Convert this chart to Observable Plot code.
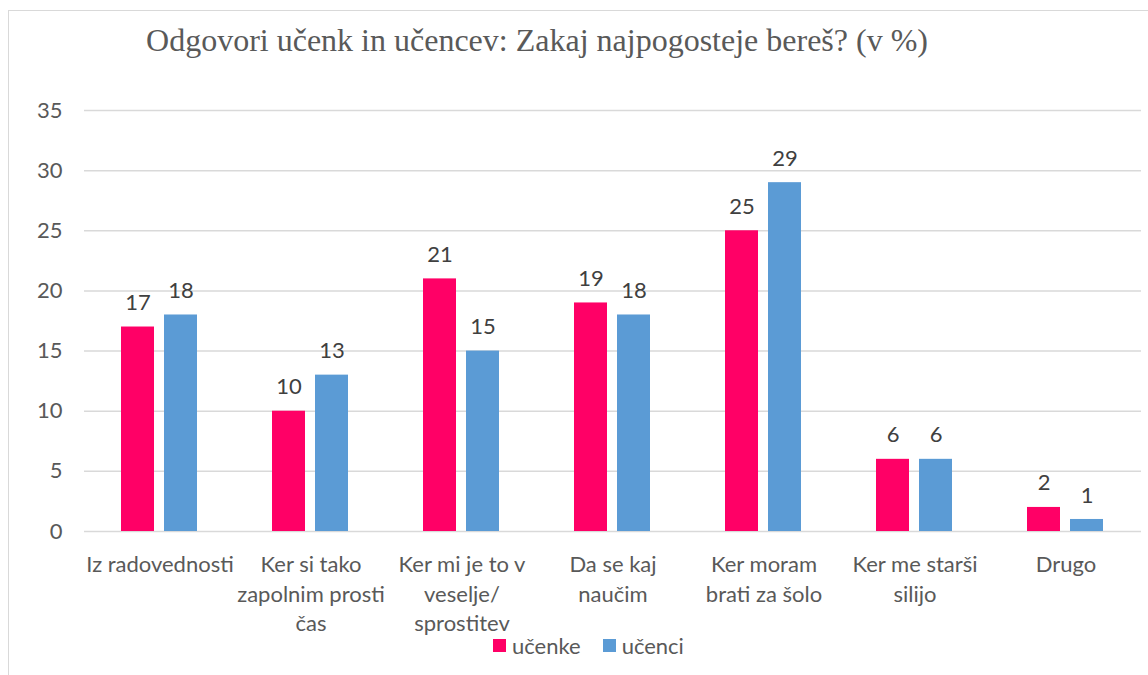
<!DOCTYPE html>
<html>
<head>
<meta charset="utf-8">
<script src="https://cdn.jsdelivr.net/npm/d3@7"></script>
<script src="https://cdn.jsdelivr.net/npm/@observablehq/plot@0.6"></script>
<style>
  html, body { margin: 0; padding: 0; background: #fff; width: 1148px; height: 675px; overflow: hidden; }
  #frame { position: absolute; left: 8px; top: 10px; width: 1170px; height: 700px; border: 1px solid #d9d9d9; box-sizing: border-box; }
  #title { position: absolute; left: 0; top: 20px; width: 1074px; text-align: center; font-family: "Liberation Serif", "Times New Roman", serif; font-size: 32px; line-height: 40px; color: #595959; white-space: nowrap; }
  #chart { position: absolute; left: 0; top: 70px; }
  #legend { position: absolute; left: 493px; top: 632px; height: 26px; display: flex; align-items: center; font-family: Lato, sans-serif; font-size: 22px; color: #595959; }
  .item { display: flex; align-items: center; margin-right: 22px; }
  .sw { width: 13px; height: 13px; margin-right: 6px; }
</style>
</head>
<body>
<div id="frame"></div>
<div id="title">Odgovori učenk in učencev: Zakaj najpogosteje bereš? (v %)</div>
<div id="chart"></div>
<div id="legend"></div>
<script>
const categories = [
  "Iz radovednosti",
  "Ker si tako\nzapolnim prosti\nčas",
  "Ker mi je to v\nveselje/\nsprostitev",
  "Da se kaj\nnaučim",
  "Ker moram\nbrati za šolo",
  "Ker me starši\nsilijo",
  "Drugo"
];
const series = ["učenke", "učenci"];
const ucenke = [17, 10, 21, 19, 25, 6, 2];
const ucenci = [18, 13, 15, 18, 29, 6, 1];
const colors = ["#FF0066", "#5B9BD5"];
const yTicks = [0, 5, 10, 15, 20, 25, 30, 35];

const data = [];
categories.forEach((c, i) => {
  data.push({category: c, series: series[0], value: ucenke[i]});
  data.push({category: c, series: series[1], value: ucenci[i]});
});

const chart = Plot.plot({
  width: 1148,
  height: 571,
  marginLeft: 83,
  marginRight: 6,
  marginTop: 40,
  marginBottom: 110,
  style: {fontFamily: "Lato, sans-serif", fontSize: "22px", color: "#595959", background: "transparent"},
  fx: {domain: categories, padding: 0, label: null},
  x: {domain: series, paddingInner: 0.227, paddingOuter: 0.833, axis: null},
  y: {domain: [0, 35], label: null},
  color: {domain: series, range: colors},
  marks: [
    Plot.ruleY(yTicks, {stroke: "#d9d9d9", strokeWidth: 1.5}),
    Plot.barY(data, {fx: "category", x: "series", y: "value", fill: "series"}),
    Plot.text(data, {fx: "category", x: "series", y: "value", text: d => String(d.value), dy: -24, fill: "#404040", fontSize: 22}),
    Plot.axisY(yTicks, {tickSize: 0, tickPadding: 22, fill: "#595959", fontSize: 22, label: null}),
    Plot.axisFx({anchor: "bottom", tickSize: 0, tickPadding: 20, fill: "#595959", fontSize: 22, lineHeight: 1.34, label: null})
  ]
});
document.getElementById("chart").appendChild(chart);

const legend = document.getElementById("legend");
series.forEach((s, i) => {
  const item = document.createElement("div");
  item.className = "item";
  const sw = document.createElement("div");
  sw.className = "sw";
  sw.style.background = colors[i];
  const t = document.createElement("span");
  t.textContent = s;
  item.appendChild(sw);
  item.appendChild(t);
  legend.appendChild(item);
});
</script>
</body>
</html>
